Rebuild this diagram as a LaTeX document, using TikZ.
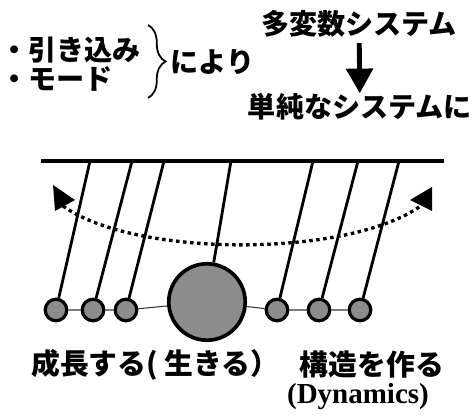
\documentclass[tikz,border=0pt]{standalone}
\usepackage{fontspec}
\setmainfont{Liberation Serif}
\newfontfamily\jp{Noto Sans CJK JP}[BoldFont={* Black}]
\usetikzlibrary{arrows.meta,decorations.pathreplacing}

\definecolor{bobgray}{RGB}{140,140,140}
\tikzset{
  jptext/.style={font=\jp\bfseries\fontsize{16}{18}\selectfont, inner sep=0pt},
  bob/.style={circle, draw, line width=1.8pt, fill=bobgray, inner sep=0pt, minimum size=12.3pt},
  bigbob/.style={bob, line width=2.1pt, minimum size=43.5pt},
  thread/.style={line width=1.6pt},
  link/.style={line width=0.6pt, black!80},
}

\begin{document}
\begin{tikzpicture}[x=0.02cm, y=-0.02cm]
	\useasboundingbox (0,0) rectangle (474,418);
	% headline: many variables -> simple system
	\node[jptext] (multi) at (359,24) {多変数システム};
	\node[jptext] (simple) at (360,107) {単純なシステムに};
	\draw[line width=2.8pt, -{Triangle[width=15pt,length=14pt]}, shorten <=3pt] (multi) -- (simple);
	\node[jptext, anchor=west] (pull) at (0,50) {・引き込み};
	\node[jptext, anchor=west] (mode) at (0,79) {・モード};
	\coordinate (br1) at (148,25);
	\coordinate (br2) at (148,98);
	\draw[line width=1pt, decorate, decoration={brace, amplitude=10pt}] (br1) -- (br2);
	\node[jptext, anchor=west] (by) at (170,62) {により};
	% pendulums hanging from the bar
	\draw[line width=1.9pt] (41,161) -- (444,161);
	\foreach \n/\x in {1/56,2/93,3/126,5/277,6/319,7/360}
		\node[bob] (b\n) at (\x,310) {};
	\node[bigbob] (b4) at (207,302) {};
	\draw[link] (b1) -- (b2) -- (b3) -- (b4) -- (b5) -- (b6) -- (b7);
	\foreach \n/\x in {1/90,2/132,3/164,4/231,5/313,6/358,7/399}{
		\coordinate (t\n) at (\x,161);
		\draw[thread] (t\n) -- (b\n);
	}
	% swing
	\draw[line width=1.9pt, dash pattern=on 2pt off 2pt] (63,206) .. controls (135,258) and (350,258) .. (422,205);
	\fill (53,185) -- (75,200) -- (55,211) -- cycle;
	\fill (432,187) -- (410,200) -- (432,211) -- cycle;
	% captions below
	\node[jptext, anchor=west, font=\jp\bfseries\fontsize{16.4}{18}\selectfont] (grow) at (31,365) {成長する( 生きる）};
	\node[jptext, font=\jp\bfseries\fontsize{16.4}{18}\selectfont] (build) at (372,365) {構造を作る};
	\node[font=\bfseries\fontsize{16.5}{18}\selectfont, inner sep=0pt] (dyn) at (358,397) {(Dynamics)};
\end{tikzpicture}
\end{document}
